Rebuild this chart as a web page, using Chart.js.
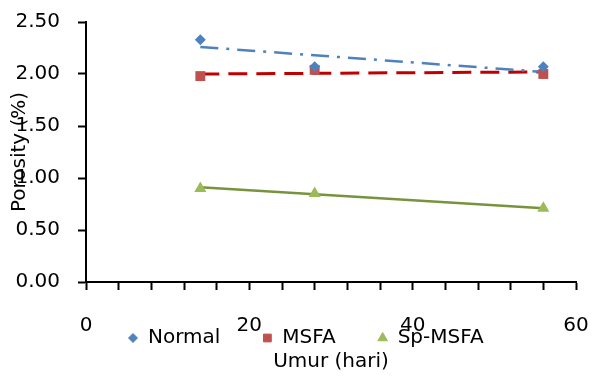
<!DOCTYPE html>
<html>
<head>
<meta charset="utf-8">
<script src="https://cdn.jsdelivr.net/npm/chart.js@4"></script>
<style>
  html, body { margin: 0; padding: 0; background: #fff; }
  #wrap { width: 592px; height: 376px; }
</style>
</head>
<body>
<div id="wrap"><canvas id="porosityChart" width="592" height="376"></canvas></div>
<script>
// data
const umurHari = [14, 28, 56];
const normal = [2.33, 2.07, 2.07];
const msfa = [1.98, 2.04, 2.00];
const spMsfa = [0.90, 0.85, 0.71];

// linear trendlines (end points)
const trendX = [14, 56];
const normalTrend = [2.26, 2.02];
const msfaTrend = [2.00, 2.02];
const spMsfaTrend = [0.91, 0.71];

const xTickLabels = [0, 20, 40, 60];
const yTickLabels = ['0.00', '0.50', '1.00', '1.50', '2.00', '2.50'];
const seriesNames = ['Normal', 'MSFA', 'Sp-MSFA'];

const FONT = 'DejaVu Sans';

function pts(xs, ys) {
    return xs.map((x, i) => ({ x: x, y: ys[i] }));
}

// legend drawn under the x tick labels, like the original
const bottomLegend = {
    id: 'bottomLegend',
    afterDraw(chart) {
        const ctx = chart.ctx;
        const y = 338;
        let x = 133;
        ctx.save();
        ctx.font = '20px "' + FONT + '"';
        ctx.textBaseline = 'middle';
        for (let i = 0; i < 3; i++) {
            const ds = chart.data.datasets[i];
            ctx.fillStyle = ds.backgroundColor;
            ctx.strokeStyle = ds.backgroundColor;
            Chart.helpers.drawPoint(ctx, {
                pointStyle: ds.pointStyle,
                radius: ds.legendRadius,
                rotation: 0,
                borderWidth: 1
            }, x, y);
            ctx.fillStyle = '#000';
            ctx.textAlign = 'left';
            ctx.fillText(ds.label, x + 15, y);
            x += 15 + ctx.measureText(ds.label).width + 47;
        }
        ctx.restore();
    }
};

const ctx = document.getElementById('porosityChart').getContext('2d');
new Chart(ctx, {
    type: 'scatter',
    data: {
        datasets: [{
            label: seriesNames[0],
            data: pts(umurHari, normal),
            pointStyle: 'rectRot',
            pointRadius: 5.5,
            legendRadius: 4.5,
            backgroundColor: '#4F81BD',
            borderColor: '#4F81BD',
            borderWidth: 0
        }, {
            label: seriesNames[1],
            data: pts(umurHari, msfa),
            pointStyle: 'rect',
            pointRadius: 7,
            legendRadius: 5.5,
            backgroundColor: '#C0504D',
            borderColor: '#C0504D',
            borderWidth: 0
        }, {
            label: seriesNames[2],
            data: pts(umurHari, spMsfa),
            pointStyle: 'triangle',
            pointRadius: 7,
            legendRadius: 5.5,
            backgroundColor: '#9BBB59',
            borderColor: '#9BBB59',
            borderWidth: 0
        }, {
            type: 'line',
            label: 'trend Normal',
            data: pts(trendX, normalTrend),
            borderColor: '#4F81BD',
            borderWidth: 2.5,
            borderDash: [18, 8, 3, 8],
            pointRadius: 0,
            fill: false
        }, {
            type: 'line',
            label: 'trend MSFA',
            data: pts(trendX, msfaTrend),
            borderColor: '#C00000',
            borderWidth: 3,
            borderDash: [19, 9],
            pointRadius: 0,
            fill: false
        }, {
            type: 'line',
            label: 'trend Sp-MSFA',
            data: pts(trendX, spMsfaTrend),
            borderColor: '#77933C',
            borderWidth: 2.5,
            pointRadius: 0,
            fill: false
        }]
    },
    options: {
        responsive: false,
        animation: false,
        devicePixelRatio: 1,
        layout: { padding: { top: 22, right: 16, left: 0, bottom: 0 } },
        plugins: {
            legend: { display: false },
            tooltip: { enabled: false }
        },
        scales: {
            x: {
                type: 'linear',
                min: 0,
                max: 60,
                afterFit: function(scale) {
                    scale.height = 94;
                    scale.paddingLeft = 0;
                    scale.paddingRight = 0;
                },
                border: { display: true, color: '#000', width: 2 },
                grid: { drawOnChartArea: false, drawTicks: true, tickLength: 8, tickWidth: 2, tickColor: '#000' },
                ticks: {
                    stepSize: 4,
                    autoSkip: false,
                    maxRotation: 0,
                    padding: 24,
                    color: '#000',
                    font: { family: FONT, size: 20 },
                    callback: function(v) { return xTickLabels.includes(v) ? String(v) : ''; }
                },
                title: {
                    display: true,
                    text: 'Umur (hari)',
                    color: '#000',
                    font: { family: FONT, size: 20 },
                    padding: { top: 0, bottom: 2 }
                }
            },
            y: {
                min: 0,
                max: 2.5,
                afterFit: function(scale) {
                    scale.width = 86;
                    scale.paddingTop = 0;
                    scale.paddingBottom = 0;
                },
                border: { display: true, color: '#000', width: 2 },
                grid: { drawOnChartArea: false, drawTicks: true, tickLength: 8, tickWidth: 2, tickColor: '#000' },
                ticks: {
                    stepSize: 0.5,
                    padding: 18,
                    color: '#000',
                    font: { family: FONT, size: 20 },
                    callback: function(v, i) { return yTickLabels[i]; }
                },
                title: {
                    display: true,
                    text: 'Porosity (%)',
                    color: '#000',
                    font: { family: FONT, size: 20 },
                    padding: { top: 8, bottom: 0 }
                }
            }
        }
    },
    plugins: [bottomLegend]
});
</script>
</body>
</html>
